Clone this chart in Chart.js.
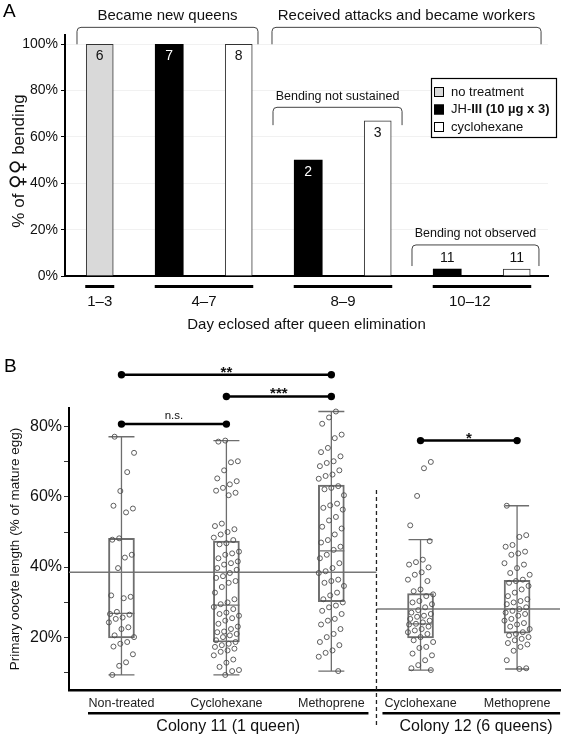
<!DOCTYPE html>
<html>
<head>
<meta charset="utf-8">
<script src="https://cdn.jsdelivr.net/npm/chart.js@4.4.0/dist/chart.umd.min.js"></script>
<style>
  html, body { margin: 0; padding: 0; background: #fff; }
  #wrap { position: relative; width: 565px; height: 737px; overflow: hidden; }
  #chartA { position: absolute; left: 0; top: 0; }
  #chartB { position: absolute; left: 0; top: 345px; }
</style>
</head>
<body>
<div id="wrap">
  <canvas id="chartA" width="565" height="345"></canvas>
  <canvas id="chartB" width="565" height="392"></canvas>
</div>
<script>
const FONT = "'Liberation Sans', Arial, Helvetica, sans-serif";

// ---- Panel A : % of females bending, by eclosion day ----
const dayGroups = ['1–3', '4–7', '8–9', '10–12'];
const noTreatment   = [100, null, null, null];
const jhIII         = [null, 100, 50, 3];
const cyclohexaneA  = [null, 100, 67, 3];
const nNoTreatment  = [6, null, null, null];
const nJhIII        = [null, 7, 2, 11];
const nCyclohexaneA = [null, 8, 3, 11];
const yTicksA = [0, 20, 40, 60, 80, 100];

// ---- Panel B : primary oocyte length (% of mature egg) ----
const treatmentsB = ['Non-treated', 'Cyclohexane', 'Methoprene', 'Cyclohexane', 'Methoprene'];
const colonies = ['Colony 11 (1 queen)', 'Colony 12 (6 queens)'];
// lower whisker, Q1, median, Q3, upper whisker
const boxStats = [
  [9.2, 19.8, 26.8, 48.2, 77.2],
  [9.2, 18.6, 29.1, 47.4, 76.1],
  [10.3, 30.1, 44.6, 63.4, 84.4],
  [10.6, 19.8, 23.8, 32.4, 47.8],
  [10.9, 21.1, 28.0, 36.2, 57.5]
];
const oocyteNonTreated = [77.2, 72.6, 67.1, 61.7, 57.5, 56.7, 55.6, 48.2, 47.8, 43.5, 42.7, 39.7, 31.9, 31.5, 31.1,
  27.2, 26.6, 26.4, 25.6, 25.2, 24.2, 22.8, 22.3, 20.5, 20.0, 18.6, 18.1, 17.3, 15.1, 12.8, 11.8, 9.2];
const oocyteCyclo11 = [76.1, 75.8, 70.2, 69.9, 67.6, 65.3, 64.5, 63.6, 62.6, 61.8, 61.2, 60.5, 52.4, 51.7, 50.8,
  50.0, 49.3, 48.4, 47.7, 46.8, 46.5, 44.4, 43.9, 43.5, 42.5, 41.6, 41.1, 40.7, 39.7, 39.2, 38.3, 37.4, 36.9, 36.0,
  35.5, 34.3, 32.7, 30.8, 29.9, 29.4, 28.6, 28.0, 27.0, 26.6, 26.1, 25.4, 24.7, 23.8, 23.0, 22.3, 21.6, 21.4, 20.9,
  20.5, 20.0, 19.1, 18.6, 18.1, 17.7, 17.2, 16.7, 16.2, 15.8, 14.8, 13.6, 12.7, 11.5, 10.6, 10.3, 9.2];
const oocyteMetho11 = [84.4, 82.7, 80.9, 77.8, 76.8, 74.0, 72.8, 71.6, 70.2, 69.7, 68.8, 67.6, 66.4, 66.0, 65.2,
  63.1, 62.6, 62.2, 60.5, 58.1, 57.6, 56.9, 56.4, 54.3, 53.3, 51.5, 51.0, 49.3, 47.7, 47.0, 45.8, 44.9, 43.5, 42.5,
  41.1, 39.7, 38.8, 38.3, 36.4, 36.0, 35.5, 34.6, 32.7, 31.9, 30.8, 29.9, 29.0, 28.5, 27.5, 26.6, 25.2, 24.7, 23.6,
  22.3, 20.9, 20.0, 18.6, 17.7, 16.2, 15.5, 14.4, 10.3];
const oocyteCyclo12 = [70.0, 68.2, 60.3, 51.9, 47.4, 42.1, 41.4, 40.7, 39.9, 38.5, 37.8, 36.4, 36.0, 33.6, 33.1,
  32.2, 31.7, 30.3, 29.9, 29.4, 28.5, 27.7, 27.0, 26.6, 26.1, 25.8, 25.2, 24.7, 24.2, 23.8, 23.6, 23.0, 22.3, 21.9,
  21.4, 20.9, 20.0, 19.1, 18.6, 17.2, 16.9, 15.3, 14.8, 13.4, 12.0, 11.1, 10.6];
const oocyteMetho12 = [57.5, 49.1, 48.6, 46.3, 45.8, 44.4, 43.9, 43.5, 41.1, 40.7, 39.7, 38.3, 37.8, 36.4, 36.0,
  35.5, 34.6, 33.6, 32.7, 31.7, 30.8, 30.3, 29.9, 29.4, 28.5, 28.0, 27.5, 27.0, 26.6, 26.1, 25.2, 24.7, 24.0, 23.6,
  23.0, 22.3, 21.4, 20.9, 20.5, 20.0, 19.5, 19.1, 18.3, 17.9, 17.2, 16.1, 13.4, 11.1, 10.9];
const oocyteGroups = [oocyteNonTreated, oocyteCyclo11, oocyteMetho11, oocyteCyclo12, oocyteMetho12];
const colonyMeans = [38.5, 28.0];
const comparisons = [[0, 2, '**'], [1, 2, '***'], [0, 1, 'n.s.'], [3, 4, '*']];
const comparisonLevels = [94.9, 88.7, 80.8, 76.1];
const yTicksB = [10, 15, 20, 25, 30, 35, 40, 45, 50, 55, 60, 65, 70, 75, 80];

// ---- layout helpers (slot positions on the x axes) ----
const groupSlot = [0, 3, 7, 11];            // centre slot of each day group
const tickSlot = [0, 3, 7, 10.65];           // where the day labels sit
const offsets = { nt: 0, jh: -1, cy: 1 };    // treatment slot inside a group
const groupX = [0.5, 1.5, 2.5, 3.35, 4.27];  // panel B box positions
const colonySplit = 2.93;

function barPoints(values, counts, off) {
  const pts = [];
  values.forEach((v, g) => {
    if (v !== null) pts.push({ x: groupSlot[g] + off, y: v, n: counts[g] });
  });
  return pts;
}

function jitter(i) {
  return (((i * 17 + 5) % 23) / 22 - 0.5) * 0.24;
}

function drawBracket(ctx, x1, x2, yTop, yLeg) {
  const r = 4;
  ctx.beginPath();
  ctx.moveTo(x1, yLeg);
  ctx.lineTo(x1, yTop + r);
  ctx.quadraticCurveTo(x1, yTop, x1 + r, yTop);
  ctx.lineTo(x2 - r, yTop);
  ctx.quadraticCurveTo(x2, yTop, x2, yTop + r);
  ctx.lineTo(x2, yLeg);
  ctx.stroke();
}

// brackets of panel A, in axis units
const bracketsA = [
  { text: 'Became new queens', from: -0.655, to: 4.554, top: 107.3, leg: 100, textY: 112.1, size: 15 },
  { text: 'Received attacks and became workers', from: 4.957, to: 12.70, top: 107.3, leg: 100, textY: 112.1, size: 15 },
  { text: 'Bending not sustained', from: 4.986, to: 8.70, top: 72.8, leg: 65.1, textY: 77.4, size: 12.5 },
  { text: 'Bending not observed', from: 8.986, to: 12.64, top: 13.4, leg: 4.3, textY: 18.3, size: 12.5 }
];

const panelAExtras = {
  id: 'panelAExtras',
  afterDraw(chart) {
    const ctx = chart.ctx;
    const xs = chart.scales.x, ys = chart.scales.y;
    ctx.save();
    // panel letter
    ctx.fillStyle = '#000';
    ctx.font = '19px ' + FONT;
    ctx.textAlign = 'left';
    ctx.textBaseline = 'middle';
    ctx.fillText('A', 3, 12);

    // y axis title with the female symbols
    const parts = [['% of ', '17px ' + FONT], ['♀♀', '20px "DejaVu Sans"'], [' bending', '17px ' + FONT]];
    let total = 0;
    parts.forEach(p => { ctx.font = p[1]; total += ctx.measureText(p[0]).width; });
    ctx.save();
    ctx.translate(19, 161);
    ctx.rotate(-Math.PI / 2);
    ctx.fillStyle = '#111';
    ctx.textBaseline = 'middle';
    let tx = -total / 2;
    parts.forEach(p => {
      ctx.font = p[1];
      ctx.fillText(p[0], tx, 0);
      tx += ctx.measureText(p[0]).width;
    });
    ctx.restore();

    // bar counts
    chart.data.datasets.forEach((ds, di) => {
      const meta = chart.getDatasetMeta(di);
      meta.data.forEach((el, i) => {
        const n = ds.data[i].n;
        const val = ds.data[i].y;
        ctx.font = '14px ' + FONT;
        ctx.textAlign = 'center';
        ctx.textBaseline = 'middle';
        if (val > 10) {
          ctx.fillStyle = di === 1 ? '#fff' : '#111';
          ctx.fillText(String(n), el.x, el.y + 12);
        } else {
          ctx.fillStyle = '#111';
          ctx.fillText(String(n), el.x, el.y - 11);
        }
      });
    });

    // underlines of the day groups
    const series = [[noTreatment, offsets.nt], [jhIII, offsets.jh], [cyclohexaneA, offsets.cy]];
    ctx.fillStyle = '#000';
    dayGroups.forEach((g, gi) => {
      const offs = series.filter(s => s[0][gi] !== null).map(s => s[1]);
      const x1 = xs.getPixelForValue(groupSlot[gi] + Math.min(...offs)) - 14.5;
      const x2 = xs.getPixelForValue(groupSlot[gi] + Math.max(...offs)) + 14.5;
      ctx.fillRect(x1, ys.bottom + 9, x2 - x1, 3);
    });

    // brackets
    ctx.strokeStyle = '#444';
    ctx.lineWidth = 1;
    bracketsA.forEach(b => {
      const x1 = xs.getPixelForValue(b.from), x2 = xs.getPixelForValue(b.to);
      drawBracket(ctx, x1, x2, ys.getPixelForValue(b.top), ys.getPixelForValue(b.leg));
      ctx.fillStyle = '#111';
      ctx.font = b.size + 'px ' + FONT;
      ctx.textAlign = 'center';
      ctx.textBaseline = 'middle';
      ctx.fillText(b.text, (x1 + x2) / 2, ys.getPixelForValue(b.textY));
    });

    // legend box
    ctx.strokeStyle = '#000';
    ctx.lineWidth = 1.2;
    ctx.fillStyle = '#fff';
    ctx.fillRect(431, 78, 125, 59);
    ctx.strokeRect(431.5, 78.5, 125, 59);
    const ds = chart.data.datasets;
    const rows = [
      { color: ds[0].backgroundColor, parts: [[ds[0].label, '']] },
      { color: ds[1].backgroundColor, parts: [['JH-', ''], ['III (10 µg x 3)', 'bold ']] },
      { color: ds[2].backgroundColor, parts: [[ds[2].label, '']] }
    ];
    rows.forEach((r, i) => {
      const cy = 92 + i * 17.5;
      ctx.fillStyle = r.color;
      ctx.fillRect(434, cy - 5, 10, 10);
      ctx.strokeStyle = '#000';
      ctx.lineWidth = 1;
      ctx.strokeRect(434.5, cy - 4.5, 9, 9);
      let x = 451;
      ctx.textAlign = 'left';
      ctx.textBaseline = 'middle';
      ctx.fillStyle = '#111';
      r.parts.forEach(p => {
        ctx.font = p[1] + '13px ' + FONT;
        ctx.fillText(p[0], x, cy);
        x += ctx.measureText(p[0]).width;
      });
    });
    ctx.restore();
  }
};

new Chart(document.getElementById('chartA'), {
  type: 'bar',
  data: {
    datasets: [
      { label: 'no treatment', data: barPoints(noTreatment, nNoTreatment, offsets.nt),
        backgroundColor: '#d9d9d9', borderColor: '#333', borderWidth: 1, grouped: false, barThickness: 27 },
      { label: 'JH-III (10 µg x 3)', data: barPoints(jhIII, nJhIII, offsets.jh),
        backgroundColor: '#000', borderColor: '#000', borderWidth: 0, grouped: false, barThickness: 28 },
      { label: 'cyclohexane', data: barPoints(cyclohexaneA, nCyclohexaneA, offsets.cy),
        backgroundColor: '#fff', borderColor: '#333', borderWidth: 1, grouped: false, barThickness: 27 }
    ]
  },
  options: {
    responsive: false,
    animation: false,
    devicePixelRatio: 1,
    layout: { padding: { top: 35, right: 17, left: 0, bottom: 0 } },
    plugins: { legend: { display: false }, tooltip: { enabled: false } },
    scales: {
      x: {
        type: 'linear', min: -1, max: 12.9, offset: false,
        grid: { display: false, drawTicks: false, offset: false },
        border: { color: '#000', width: 2 },
        afterBuildTicks: s => { s.ticks = tickSlot.map(v => ({ value: v })); },
        ticks: { callback: (v, i) => dayGroups[i], autoSkip: false, maxRotation: 0, padding: 17,
                 color: '#111', font: { family: FONT, size: 15 } },
        title: { display: true, text: 'Day eclosed after queen elimination', color: '#111',
                 font: { family: FONT, size: 15 }, padding: { top: 0, bottom: 11 } },
        afterFit: s => { s.height = 69; }
      },
      y: {
        min: 0, max: 104,
        afterBuildTicks: s => { s.ticks = yTicksA.map(v => ({ value: v })); },
        grid: { color: '#f1f1f1', tickColor: '#000', tickLength: 4, drawTicks: true },
        border: { color: '#000', width: 2 },
        ticks: { callback: v => v + '%', padding: 3, color: '#111', font: { family: FONT, size: 14 } },
        afterFit: s => { s.width = 65; }
      }
    }
  },
  plugins: [panelAExtras]
});

// ---- Panel B ----
const panelBExtras = {
  id: 'panelBExtras',
  beforeDatasetsDraw(chart) {
    const ctx = chart.ctx;
    const xs = chart.scales.x, ys = chart.scales.y;
    ctx.save();
    ctx.strokeStyle = '#6e6e6e';
    ctx.lineWidth = 1.3;
    boxStats.forEach((s, i) => {
      const x = xs.getPixelForValue(groupX[i]);
      const half = i < 3 ? 13 : 12;
      ctx.beginPath();
      ctx.moveTo(x, ys.getPixelForValue(s[0]));
      ctx.lineTo(x, ys.getPixelForValue(s[4]));
      [s[0], s[4]].forEach(v => {
        const y = ys.getPixelForValue(v);
        ctx.moveTo(x - half, y);
        ctx.lineTo(x + half, y);
      });
      const ym = ys.getPixelForValue(s[2]);
      ctx.moveTo(x - half, ym);
      ctx.lineTo(x + half, ym);
      ctx.stroke();
    });
    ctx.restore();
  },
  afterDraw(chart) {
    const ctx = chart.ctx;
    const xs = chart.scales.x, ys = chart.scales.y;
    ctx.save();
    ctx.fillStyle = '#000';
    ctx.font = '19px ' + FONT;
    ctx.textAlign = 'left';
    ctx.textBaseline = 'middle';
    ctx.fillText('B', 4, 22);

    // comparison end dots and labels
    comparisons.forEach((c, k) => {
      const xa = xs.getPixelForValue(groupX[c[0]]);
      const xb = xs.getPixelForValue(groupX[c[1]]);
      const y = ys.getPixelForValue(comparisonLevels[k]);
      ctx.fillStyle = '#000';
      [xa, xb].forEach(xp => {
        ctx.beginPath();
        ctx.arc(xp, y, 3.7, 0, Math.PI * 2);
        ctx.fill();
      });
      ctx.fillStyle = '#111';
      ctx.textAlign = 'center';
      ctx.textBaseline = 'alphabetic';
      if (c[2] === 'n.s.') {
        ctx.font = '11.5px ' + FONT;
        ctx.fillText(c[2], (xa + xb) / 2, y - 5);
      } else {
        ctx.font = 'bold 15px ' + FONT;
        ctx.fillText(c[2], (xa + xb) / 2, y + 2);
      }
    });

    // colony divider
    const xd = xs.getPixelForValue(colonySplit);
    ctx.strokeStyle = '#222';
    ctx.lineWidth = 1.3;
    ctx.setLineDash([4, 3]);
    ctx.beginPath();
    ctx.moveTo(xd, ys.getPixelForValue(62));
    ctx.lineTo(xd, ys.bottom + 38);
    ctx.stroke();
    ctx.setLineDash([]);

    // colony underlines and names
    const spans = [[xs.left + 19, xd - 8], [xd + 6, xs.right]];
    colonies.forEach((name, i) => {
      ctx.fillStyle = '#000';
      ctx.fillRect(spans[i][0], ys.bottom + 22, spans[i][1] - spans[i][0], 2.5);
      ctx.font = '16px ' + FONT;
      ctx.textAlign = 'center';
      ctx.textBaseline = 'middle';
      ctx.fillStyle = '#111';
      const cx = i === 0 ? (spans[i][0] + spans[i][1]) / 2 : 476;
      ctx.fillText(name, cx, ys.bottom + 37);
    });
    ctx.restore();
  }
};

const pointDatasets = oocyteGroups.map((vals, k) => ({
  type: 'scatter',
  data: vals.map((v, i) => ({ x: groupX[k] + jitter(i + k * 3), y: v })),
  pointRadius: 2.5,
  pointBackgroundColor: 'rgba(255,255,255,0)',
  pointBorderColor: '#4d4d4d',
  pointBorderWidth: 0.9,
  order: 1
}));

const sigDatasets = comparisons.map((c, k) => ({
  type: 'line',
  data: [{ x: groupX[c[0]], y: comparisonLevels[k] }, { x: groupX[c[1]], y: comparisonLevels[k] }],
  borderColor: '#000',
  borderWidth: 2.5,
  pointRadius: 0,
  clip: false,
  order: 0
}));

const meanDatasets = [
  { type: 'line', data: [{ x: 0, y: colonyMeans[0] }, { x: colonySplit, y: colonyMeans[0] }],
    borderColor: '#777', borderWidth: 1.5, pointRadius: 0, order: 3 },
  { type: 'line', data: [{ x: colonySplit, y: colonyMeans[1] }, { x: 4.68, y: colonyMeans[1] }],
    borderColor: '#777', borderWidth: 1.5, pointRadius: 0, order: 3 }
];

const boxDataset = {
  type: 'bar',
  data: boxStats.map((s, i) => ({ x: groupX[i], y: [s[1], s[3]] })),
  backgroundColor: 'rgba(255,255,255,0)',
  borderColor: '#6e6e6e',
  borderWidth: 1.3,
  borderSkipped: false,
  grouped: false,
  barThickness: 26,
  order: 2
};

new Chart(document.getElementById('chartB'), {
  type: 'bar',
  data: { datasets: [...sigDatasets, ...pointDatasets, boxDataset, ...meanDatasets] },
  options: {
    responsive: false,
    animation: false,
    devicePixelRatio: 1,
    layout: { padding: { top: 63, right: 0, left: 0, bottom: 0 } },
    plugins: { legend: { display: false }, tooltip: { enabled: false } },
    scales: {
      x: {
        type: 'linear', min: 0, max: 4.68, offset: false,
        grid: { display: false, drawTicks: false, offset: false },
        border: { color: '#000', width: 2.5 },
        afterBuildTicks: s => { s.ticks = groupX.map(v => ({ value: v })); },
        ticks: { callback: (v, i) => treatmentsB[i], autoSkip: false, maxRotation: 0, padding: 6,
                 color: '#222', font: { family: FONT, size: 12.5 } },
        afterFit: s => { s.height = 47; }
      },
      y: {
        min: 4.9, max: 85.4,
        afterBuildTicks: s => { s.ticks = yTicksB.map(v => ({ value: v })); },
        grid: { drawOnChartArea: false, tickColor: '#333', tickLength: 5, drawTicks: true },
        border: { color: '#000', width: 2 },
        ticks: { callback: v => (v % 20 === 0 ? v + '%' : ''), padding: 2, color: '#111',
                 font: { family: FONT, size: 16 } },
        title: { display: true, text: 'Primary oocyte length (% of mature egg)', color: '#111',
                 font: { family: FONT, size: 13.5 }, padding: { top: 7, bottom: 0 } },
        afterFit: s => { s.width = 69; }
      }
    }
  },
  plugins: [panelBExtras]
});
</script>
</body>
</html>
